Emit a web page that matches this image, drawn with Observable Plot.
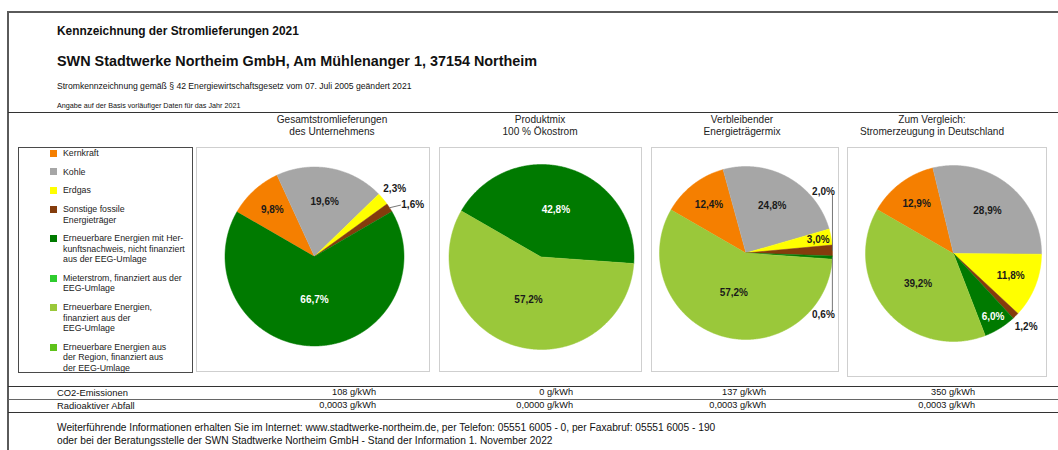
<!DOCTYPE html>
<html><head><meta charset="utf-8">
<script src="https://cdn.jsdelivr.net/npm/d3@7"></script>
<script src="https://cdn.jsdelivr.net/npm/@observablehq/plot@0.6"></script>
<style>
body{margin:0;background:#fff;}
#page{position:relative;width:1058px;height:450px;overflow:hidden;font-family:"Liberation Sans",Arial,sans-serif;color:#111;background:#fff;}
.t{position:absolute;white-space:nowrap;}
.r{position:absolute;box-sizing:border-box;}
svg{position:absolute;overflow:visible;}
</style>
</head><body><div id="page"></div>
<script>
// ---------- data ----------
const categories = ["Kernkraft","Kohle","Erdgas","Sonstige fossile Energieträger",
  "Erneuerbare Energien mit Herkunftsnachweis, nicht finanziert aus der EEG-Umlage",
  "Mieterstrom, finanziert aus der EEG-Umlage",
  "Erneuerbare Energien, finanziert aus der EEG-Umlage",
  "Erneuerbare Energien aus der Region, finanziert aus der EEG-Umlage"];
const legendLabels = [["Kernkraft"],["Kohle"],["Erdgas"],["Sonstige fossile","Energieträger"],
  ["Erneuerbare Energien mit Her-","kunftsnachweis, nicht finanziert","aus der EEG-Umlage"],
  ["Mieterstrom, finanziert aus der","EEG-Umlage"],
  ["Erneuerbare Energien,","finanziert aus der","EEG-Umlage"],
  ["Erneuerbare Energien aus","der Region, finanziert aus","der EEG-Umlage"]];
const palette = ["#f57f00","#a6a6a6","#ffff00","#843c0c","#007a00","#2ecc2e","#9ac83a","#5ec21a"];
const chartTitles = [["Gesamtstromlieferungen","des Unternehmens"],["Produktmix","100 % Ökostrom"],
  ["Verbleibender","Energieträgermix"],["Zum Vergleich:","Stromerzeugung in Deutschland"]];
const gesamt      = [9.8, 19.6, 2.3, 1.6, 66.7, 0, 0, 0];
const produktmix  = [0, 0, 0, 0, 42.8, 0, 57.2, 0];
const verbleibend = [12.4, 24.8, 3.0, 2.0, 0.6, 0, 57.2, 0];
const deutschland = [12.9, 28.9, 11.8, 1.2, 6.0, 0, 39.2, 0];
const rowLabels = ["CO2-Emissionen","Radioaktiver Abfall"];
const co2Emissionen = [108, 0, 137, 350];
const radioaktiverAbfall = [0.0003, 0.0000, 0.0003, 0.0003];
const title1 = "Kennzeichnung der Stromlieferungen 2021";
const title2 = "SWN Stadtwerke Northeim GmbH, Am Mühlenanger 1, 37154 Northeim";
const subtitle = "Stromkennzeichnung gemäß § 42 Energiewirtschaftsgesetz vom 07. Juli 2005 geändert 2021";
const note = "Angabe auf der Basis vorläufiger Daten für das Jahr 2021";
const footer = ["Weiterführende Informationen erhalten Sie im Internet: www.stadtwerke-northeim.de, per Telefon: 05551 6005 - 0, per Faxabruf: 05551 6005 - 190",
  "oder bei der Beratungsstelle der SWN Stadtwerke Northeim GmbH - Stand der Information 1. November 2022"];

// ---------- layout ----------
const page = document.getElementById("page");
const FONT = '"Liberation Sans", Arial, sans-serif';
function txt(str, x, y, size, opt = {}) {
  const d = document.createElement("div");
  d.className = "t"; d.textContent = str;
  const lh = size * 1.2;
  d.style.fontSize = size + "px"; d.style.lineHeight = lh + "px";
  d.style.top = (y - lh / 2) + "px";
  if (opt.weight) d.style.fontWeight = opt.weight;
  if (opt.color) d.style.color = opt.color;
  if (opt.anchor === "middle") { d.style.left = x + "px"; d.style.transform = "translateX(-50%)"; }
  else if (opt.anchor === "end") { d.style.right = (1058 - x) + "px"; }
  else d.style.left = x + "px";
  page.appendChild(d);
}
function rect(x, y, w, h, css) {
  const d = document.createElement("div");
  d.className = "r";
  Object.assign(d.style, {left: x + "px", top: y + "px", width: w + "px", height: h + "px"}, css);
  page.appendChild(d);
}
// frame
rect(7, 11, 1060, 2, {background: "#5a5a5a"});
rect(7, 11, 2, 450, {background: "#5a5a5a"});
rect(8, 112, 1060, 1, {background: "#333"});

txt(title1, 57, 31, 11.9, {weight: "bold"});
txt(title2, 57, 61.5, 14.4, {weight: "bold"});
txt(subtitle, 57, 86, 8.6);
txt(note, 57, 106, 7.2);

const headerX = [332, 540, 742, 932];
chartTitles.forEach((lines, i) => lines.forEach((l, j) => txt(l, headerX[i], 120 + j * 12, 10.1, {anchor: "middle", color: "#222"})));

// legend
rect(18, 147, 175, 226, {border: "1px solid #4a4a4a"});
{
  let y = 153;
  legendLabels.forEach((lines, i) => {
    rect(50, y - 3.5, 7, 7, {background: palette[i]});
    lines.forEach((l, j) => txt(l, 63, y + j * 10.4, 8.8, {color: "#222"}));
    y += (lines.length - 1) * 10.4 + 18.8;
  });
}

// pies
const fmt = v => v.toFixed(1).replace(".", ",") + "%";
const START = -60;
function insideFactor(v) { return v < 8 ? 0.85 : v < 15 ? 0.7 : v < 35 ? 0.62 : v < 50 ? 0.53 : 0.48; }
function drawPie(values, box, c, R) {
  const W = box.w, H = box.h, cx = c.x - box.x, cy = c.y - box.y;
  const wedges = [], inLabels = [], outs = [], leaders = [];
  let acc = 0;
  values.forEach((v, i) => {
    if (!(v > 0)) return;
    const a0 = (START + acc * 3.6) * Math.PI / 180; acc += v;
    const a1 = (START + acc * 3.6) * Math.PI / 180;
    const cat = categories[i];
    wedges.push({cat, x: 0, y: 0});
    const n = Math.max(2, Math.ceil((a1 - a0) / (Math.PI / 360)));
    for (let k = 0; k <= n; k++) { const a = a0 + (a1 - a0) * k / n; wedges.push({cat, x: Math.sin(a), y: Math.cos(a)}); }
    const am = (a0 + a1) / 2;
    if (v < 2.5) outs.push({am, label: fmt(v)});
    else { const f = insideFactor(v); inLabels.push({x: f * Math.sin(am), y: f * Math.cos(am), label: fmt(v), white: i === 4}); }
  });
  const outLabels = [];
  let over = 0, prev = null;
  outs.forEach((o, k) => {
    const Ax = R * Math.sin(o.am), Ay = -R * Math.cos(o.am);
    let Px = 1.17 * Ax, Py = 1.17 * Ay;
    const w = o.label.length * 5.6;
    if (cx + Px + w / 2 > W - 3) {
      const up = over++ % 2 === 0;
      const ly = up ? Ay - 55 : Ay + 53;
      leaders.push({id: k, x: Ax / R, y: -Ay / R}, {id: k, x: Ax / R, y: -ly / R});
      Px = Ax - 9; Py = up ? Ay - 58.5 : Ay + 57.5;
    } else if (prev && Math.abs(Py - prev.y) < 12 && Math.abs(Px - prev.x) < w) {
      Py = prev.y + 16; Px = prev.x + 18;
      leaders.push({id: k, x: Ax / R, y: -Ay / R}, {id: k, x: (Px - w / 2 - 1) / R, y: -Py / R});
    }
    prev = {x: Px, y: Py};
    outLabels.push({x: Px / R, y: -Py / R, label: o.label});
  });
  const txtOpt = {x: "x", y: "y", text: "label", fontSize: 10, fontWeight: "bold"};
  const svg = Plot.plot({
    width: W, height: H, margin: 0,
    x: {domain: [-cx / R, (W - cx) / R], axis: null},
    y: {domain: [(cy - H) / R, cy / R], axis: null},
    color: {domain: categories, range: palette},
    style: {fontFamily: FONT, background: "transparent", overflow: "visible"},
    marks: [
      Plot.line(wedges, {x: "x", y: "y", z: "cat", fill: "cat", stroke: "cat", strokeWidth: 0.5, curve: "linear"}),
      Plot.line(leaders, {x: "x", y: "y", z: "id", stroke: "#777", strokeWidth: 1}),
      Plot.text(inLabels.filter(d => !d.white), {...txtOpt, fill: "#1a1a1a"}),
      Plot.text(inLabels.filter(d => d.white), {...txtOpt, fill: "#ffffff"}),
      Plot.text(outLabels, {...txtOpt, fill: "#1a1a1a"})
    ]
  });
  svg.style.left = box.x + "px"; svg.style.top = box.y + "px";
  rect(box.x, box.y, box.w, box.h, {border: "1px solid #cfcfcf"});
  page.appendChild(svg);
}
drawPie(gesamt,      {x: 196, y: 147, w: 234, h: 225}, {x: 314, y: 256}, 89.5);
drawPie(produktmix,  {x: 439, y: 147, w: 203, h: 225}, {x: 541, y: 256.5}, 92.5);
drawPie(verbleibend, {x: 651, y: 147, w: 188, h: 225}, {x: 745.5, y: 252.5}, 86.5);
drawPie(deutschland, {x: 847, y: 147, w: 200, h: 230}, {x: 953, y: 253}, 88);

// table
rect(8, 386, 1060, 1, {background: "#333"});
rect(8, 399, 1060, 1, {background: "#666"});
rect(8, 412, 1060, 1, {background: "#333"});
const valueRight = [376, 573, 766, 975];
txt(rowLabels[0], 57, 393, 9.4);
txt(rowLabels[1], 57, 405.5, 9.4);
co2Emissionen.forEach((v, i) => txt(v + " g/kWh", valueRight[i], 393, 9.2, {anchor: "end"}));
radioaktiverAbfall.forEach((v, i) => txt(v.toFixed(4).replace(".", ",") + " g/kWh", valueRight[i], 405.5, 9.2, {anchor: "end"}));

// footer
txt(footer[0], 57, 428, 10.2);
txt(footer[1], 57, 441, 10.2);
</script>
</body></html>
